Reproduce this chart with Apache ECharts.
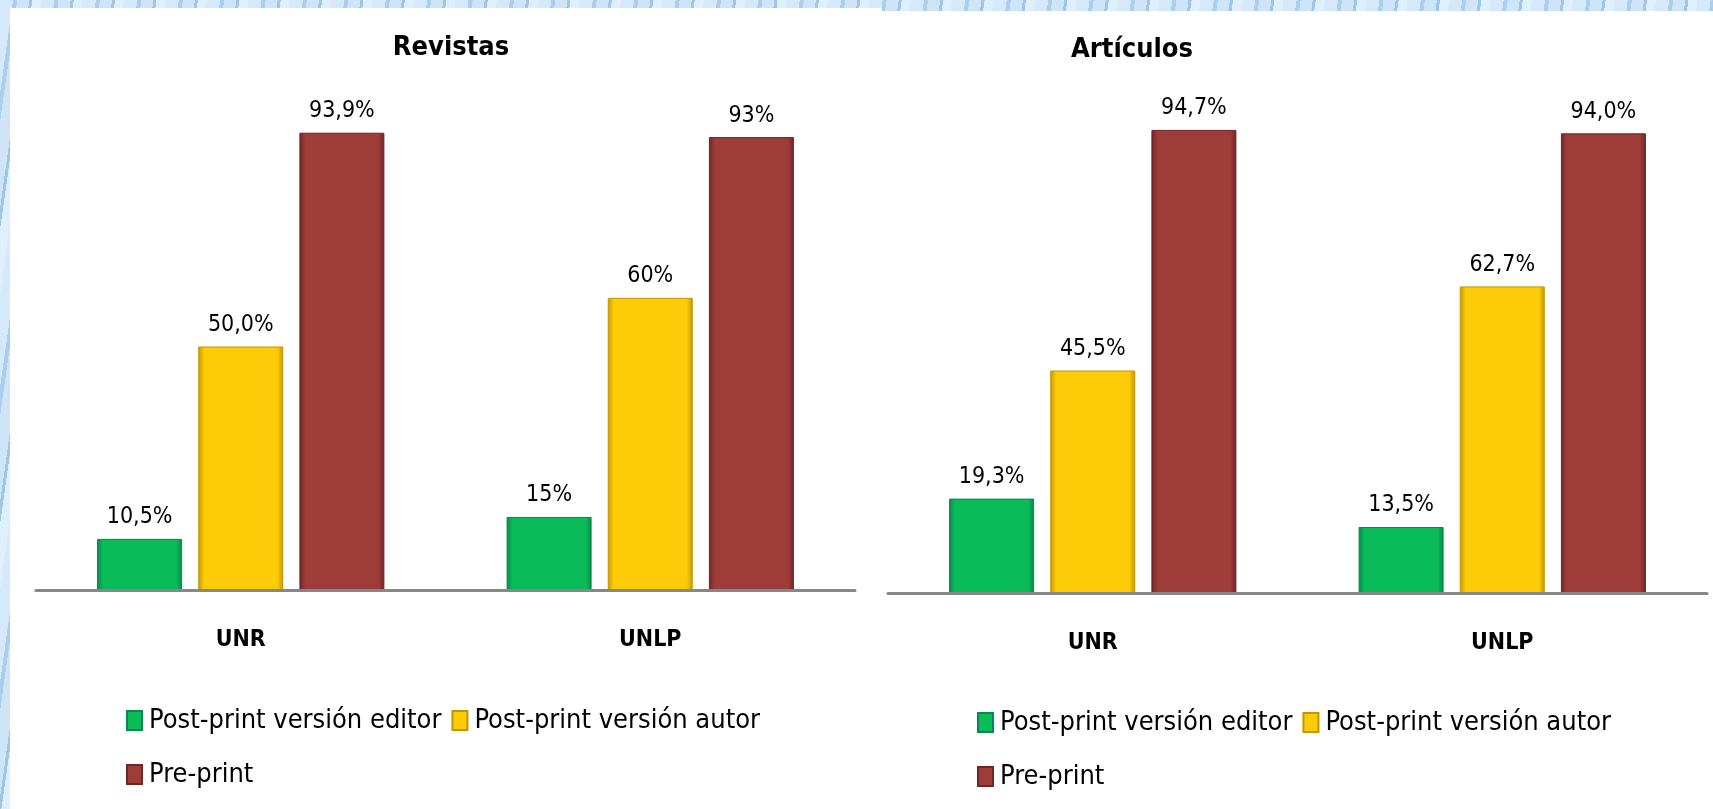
<!DOCTYPE html>
<html>
<head>
<meta charset="utf-8">
<title>Revistas / Artículos</title>
<script src="https://cdn.jsdelivr.net/npm/echarts@6/dist/echarts.min.js"></script>
<style>
    html, body { margin: 0; padding: 0; width: 1713px; height: 809px; overflow: hidden; }
    body {
        position: relative;
        background-color: #c9e1f6;
        background-image: repeating-linear-gradient(98deg, #d6e9fa 0px, #d6e9fa 13px, #aacfee 13px, #aacfee 17px, #cfe4f7 17px, #cfe4f7 29px, #9fc6e9 29px, #9fc6e9 32px, #e0effc 32px, #e0effc 41px);
    }
    .panel { position: absolute; background: #ffffff; }
    #panelLeft { left: 10px; top: 8px; width: 872px; bottom: 0; }
    #panelRight { left: 882px; top: 11px; right: 0; bottom: 0; }
    #main { position: absolute; left: 0; top: 0; width: 1713px; height: 809px; }
</style>
</head>
<body>
<div class="panel" id="panelLeft"></div>
<div class="panel" id="panelRight"></div>
<div id="main"></div>
<script>
// datos
var categories = ['UNR', 'UNLP'];
var seriesNames = ['Post-print versión editor', 'Post-print versión autor', 'Pre-print'];

// Revistas
var revEditor = [10.5, 15];
var revAutor = [50.0, 60];
var revPre = [93.9, 93];
var revEditorLbl = ['10,5%', '15%'];
var revAutorLbl = ['50,0%', '60%'];
var revPreLbl = ['93,9%', '93%'];

// Artículos
var artEditor = [19.3, 13.5];
var artAutor = [45.5, 62.7];
var artPre = [94.7, 94.0];
var artEditorLbl = ['19,3%', '13,5%'];
var artAutorLbl = ['45,5%', '62,7%'];
var artPreLbl = ['94,7%', '94,0%'];

var condFont = "'DejaVu Sans Condensed', 'DejaVu Sans', sans-serif";

// colores de las barras (main, borde)
var barColors = [
    ['#0abb59', '#06894a'],
    ['#fecb08', '#c29600'],
    ['#9e3c3a', '#6e2625']
];

function barFill(main, dark) {
    return new echarts.graphic.LinearGradient(0, 0, 1, 0, [
        {offset: 0, color: dark},
        {offset: 0.07, color: main},
        {offset: 0.93, color: main},
        {offset: 1, color: dark}
    ]);
}

function makeSeries(name, idx, gridIdx, values, labels) {
    return {
        name: name,
        type: 'bar',
        xAxisIndex: gridIdx,
        yAxisIndex: gridIdx,
        barWidth: 85,
        barGap: '19%',
        data: values,
        itemStyle: {
            color: barFill(barColors[idx][0], barColors[idx][1]),
            borderColor: barColors[idx][1],
            borderWidth: 1
        },
        label: {
            show: true,
            position: 'top',
            distance: 10,
            color: '#000000',
            fontSize: 23,
            fontFamily: condFont,
            formatter: function (p) { return labels[p.dataIndex]; }
        }
    };
}

function makeLegend(left, top, names) {
    return {
        left: left,
        top: top,
        padding: 0,
        itemWidth: 15,
        itemHeight: 19,
        itemGap: 10,
        icon: 'rect',
        selectedMode: false,
        data: names,
        textStyle: {
            color: '#000000',
            fontSize: 27,
            fontFamily: condFont,
            padding: [0, 0, 0, 2]
        }
    };
}

function makeXAxis(gridIdx) {
    return {
        type: 'category',
        gridIndex: gridIdx,
        data: categories,
        z: 5,
        axisTick: {show: false},
        axisLine: {lineStyle: {color: '#878787', width: 3}},
        axisLabel: {
            margin: 39,
            color: '#000000',
            fontSize: 23,
            fontWeight: 'bold',
            fontFamily: condFont
        }
    };
}

function makeYAxis(gridIdx) {
    return {
        type: 'value',
        gridIndex: gridIdx,
        min: 0,
        max: 100,
        show: false,
        splitLine: {show: false}
    };
}

var myChart = echarts.init(document.getElementById('main'));
var option = {
    backgroundColor: 'transparent',
    animation: false,
    textStyle: {fontFamily: condFont},
    title: [
        {
            text: 'Revistas',
            left: 446,
            top: 29,
            textAlign: 'center',
            textStyle: {fontSize: 27, fontWeight: 'bold', color: '#000000', fontFamily: condFont}
        },
        {
            text: 'Artículos',
            left: 1127,
            top: 31,
            textAlign: 'center',
            textStyle: {fontSize: 27, fontWeight: 'bold', color: '#000000', fontFamily: condFont}
        }
    ],
    legend: [
        makeLegend(126, 707, [seriesNames[0], seriesNames[1]]),
        makeLegend(126, 761, [seriesNames[2]]),
        makeLegend(977, 709, [seriesNames[0], seriesNames[1]]),
        makeLegend(977, 763, [seriesNames[2]])
    ],
    grid: [
        {left: 36, top: 103, width: 819, height: 487},
        {left: 888, top: 104, width: 819, height: 489}
    ],
    xAxis: [makeXAxis(0), makeXAxis(1)],
    yAxis: [makeYAxis(0), makeYAxis(1)],
    series: [
        makeSeries(seriesNames[0], 0, 0, revEditor, revEditorLbl),
        makeSeries(seriesNames[1], 1, 0, revAutor, revAutorLbl),
        makeSeries(seriesNames[2], 2, 0, revPre, revPreLbl),
        makeSeries(seriesNames[0], 0, 1, artEditor, artEditorLbl),
        makeSeries(seriesNames[1], 1, 1, artAutor, artAutorLbl),
        makeSeries(seriesNames[2], 2, 1, artPre, artPreLbl)
    ]
};
myChart.setOption(option);
</script>
</body>
</html>
